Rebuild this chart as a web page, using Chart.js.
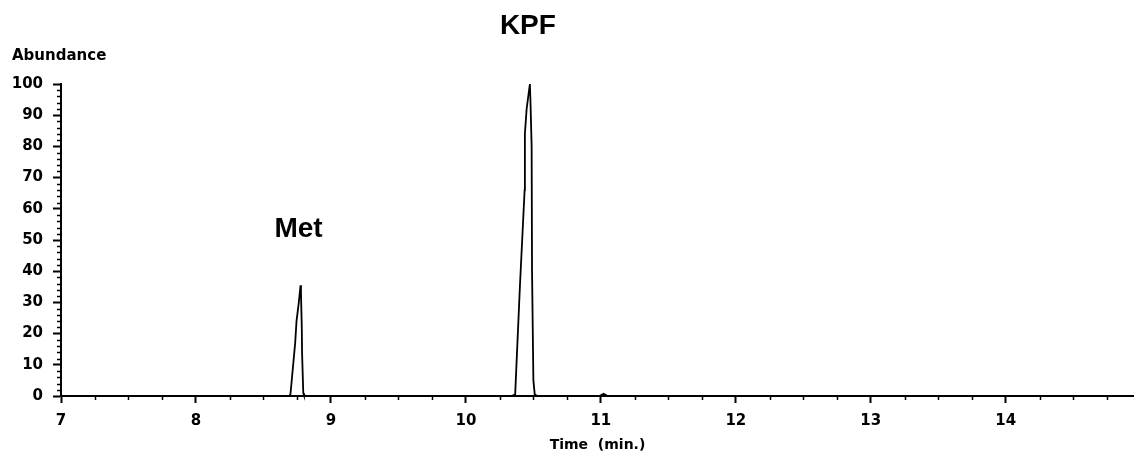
<!DOCTYPE html>
<html>
<head>
<meta charset="utf-8">
<script src="https://cdn.jsdelivr.net/npm/chart.js@4.4.1/dist/chart.umd.min.js"></script>
<style>
  html, body { margin: 0; padding: 0; background: #fff; }
  #wrap { width: 1134px; height: 457px; position: relative; }
</style>
</head>
<body>
<div id="wrap"><canvas id="c" width="1134" height="457"></canvas></div>
<script>
// ---- data ----
const times = [7.0, 8.69, 8.70, 8.735, 8.745, 8.762, 8.775, 8.778, 8.784, 8.786, 8.795, 8.80, 8.82,
               10.34, 10.365, 10.40, 10.435, 10.437, 10.45, 10.474, 10.478, 10.487, 10.49, 10.50, 10.51, 10.53,
               10.99, 11.02, 11.05, 14.95];
const abundance = [0, 0, 0.5, 17, 24, 30, 35.5, 33, 22, 14, 1, 0.3, 0,
                   0, 0.5, 35, 66, 84, 92, 100, 95, 80, 40, 5, 0.5, 0,
                   0, 0.7, 0, 0];
const xTickLabels = ['7', '8', '9', '10', '11', '12', '13', '14'];
const yTickLabels = ['0', '10', '20', '30', '40', '50', '60', '70', '80', '90', '100'];
const peakNames = ['Met', 'KPF'];
const peakTimes = [8.775, 10.474];
const peakLabelLevels = [51, 116];
const xRange = [7, 14.95];
const yRange = [0, 100];

const TICK_FONT = { family: 'DejaVu Sans', weight: 'bold', size: 15 };

const extras = {
  id: 'extras',
  afterDraw(chart) {
    const ctx = chart.ctx;
    const xs = chart.scales.x, ys = chart.scales.y;
    ctx.save();
    ctx.strokeStyle = '#000';
    ctx.lineWidth = 1.5;
    // minor ticks on x
    for (let v = xRange[0]; v <= xRange[1] + 1e-9; v += 0.25) {
      if (Math.abs(v - Math.round(v)) < 1e-6) continue;
      const px = Math.round(xs.getPixelForValue(v)) + 0.5;
      ctx.beginPath(); ctx.moveTo(px, ys.bottom); ctx.lineTo(px, ys.bottom + 4); ctx.stroke();
    }
    // minor ticks on y
    for (let v = yRange[0]; v <= yRange[1]; v += 2) {
      if (v % 10 === 0) continue;
      const py = Math.round(ys.getPixelForValue(v)) + 0.5;
      ctx.beginPath(); ctx.moveTo(xs.left - 4, py); ctx.lineTo(xs.left, py); ctx.stroke();
    }
    // axis caption "Abundance"
    ctx.fillStyle = '#000';
    ctx.font = 'bold 15px "DejaVu Sans"';
    ctx.textAlign = 'left';
    ctx.textBaseline = 'alphabetic';
    ctx.fillText('Abundance', chart.chartArea.left - 49, chart.chartArea.top - 24);
    // peak names
    ctx.font = 'bold 28px "Liberation Sans"';
    ctx.textAlign = 'center';
    peakNames.forEach((name, i) => {
      const px = xs.getPixelForValue(peakTimes[i]);
      const py = ys.getPixelForValue(peakLabelLevels[i]);
      ctx.fillText(name, px - 2, py);
    });
    ctx.restore();
  }
};

new Chart(document.getElementById('c'), {
  type: 'line',
  data: {
    datasets: [{
      data: times.map((t, i) => ({ x: t, y: abundance[i] })),
      borderColor: '#000',
      borderWidth: 1.8,
      pointRadius: 0,
      tension: 0,
      fill: false,
      clip: false
    }]
  },
  options: {
    responsive: false,
    animation: false,
    devicePixelRatio: 1,
    layout: { padding: { top: 84, right: 0, left: 0, bottom: 0 } },
    plugins: { legend: { display: false }, tooltip: { enabled: false }, title: { display: false } },
    scales: {
      x: {
        type: 'linear',
        min: xRange[0],
        max: xRange[1],
        afterBuildTicks: (s) => { s.ticks = xTickLabels.map(l => ({ value: Number(l) })); },
        afterFit: (s) => { s.height = 61; },
        ticks: { color: '#000', font: TICK_FONT, padding: 9, maxRotation: 0, autoSkip: false,
                 callback: (v) => String(v) },
        grid: { display: true, drawOnChartArea: false, drawTicks: true, tickLength: 7, tickWidth: 2, tickColor: '#000' },
        border: { display: true, color: '#000', width: 2 },
        title: { display: true, text: 'Time  (min.)', color: '#000',
                 font: { family: 'DejaVu Sans', weight: 'bold', size: 14 }, padding: { top: 0, bottom: 3 } }
      },
      y: {
        type: 'linear',
        min: yRange[0],
        max: yRange[1],
        afterBuildTicks: (s) => { s.ticks = yTickLabels.map(l => ({ value: Number(l) })); },
        afterFit: (s) => { s.width = 61; },
        ticks: { color: '#000', font: TICK_FONT, padding: 10, autoSkip: false,
                 callback: (v) => String(v) },
        grid: { display: true, drawOnChartArea: false, drawTicks: true, tickLength: 8, tickWidth: 2, tickColor: '#000' },
        border: { display: true, color: '#000', width: 2 }
      }
    }
  },
  plugins: [extras]
});
</script>
</body>
</html>
